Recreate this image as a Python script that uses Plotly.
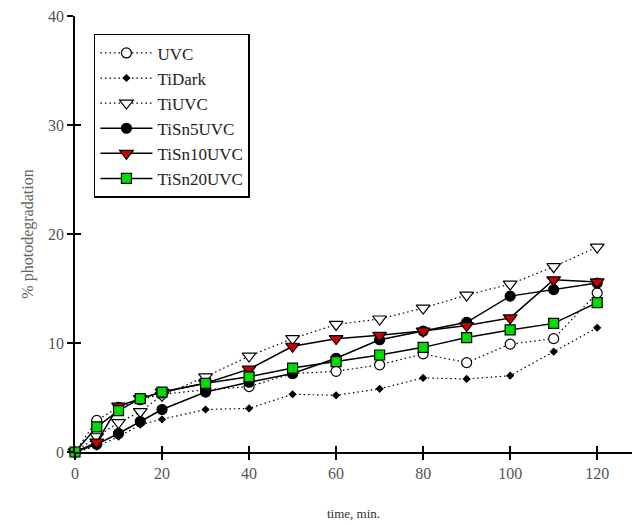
import plotly.graph_objects as go

time_min = [0, 5, 10, 15, 20, 30, 40, 50, 60, 70, 80, 90, 100, 110, 120]
uvc = [0, 2.9, 4.1, 4.8, 5.3, 5.7, 6.0, 7.2, 7.4, 8.0, 9.0, 8.2, 9.9, 10.4, 14.6]
ti_dark = [0, 0.5, 1.4, 2.5, 3.0, 3.9, 4.0, 5.3, 5.2, 5.8, 6.8, 6.7, 7.0, 9.2, 11.4]
ti_uvc = [0, 1.4, 2.7, 3.7, 5.2, 6.9, 8.8, 10.4, 11.7, 12.2, 13.2, 14.4, 15.4, 17.0, 18.8]
tisn5_uvc = [0, 0.7, 1.7, 2.8, 3.9, 5.5, 6.4, 7.2, 8.6, 10.3, 11.1, 11.9, 14.3, 14.9, 15.5]
tisn10_uvc = [0, 0.9, 4.2, 4.9, 5.5, 6.3, 7.6, 9.7, 10.4, 10.7, 11.1, 11.6, 12.3, 15.8, 15.6]
tisn20_uvc = [0, 2.3, 3.8, 4.9, 5.5, 6.3, 6.9, 7.7, 8.3, 8.9, 9.6, 10.5, 11.2, 11.8, 13.7]

x_ticks = [0, 20, 40, 60, 80, 100, 120]
y_ticks = [0, 10, 20, 30, 40]

FONT = "Liberation Serif"
DOTTED = "1.5px,3px"

series = [
    ("UVC", uvc, DOTTED, 1.2, "circle", 10, "white"),
    ("TiDark", ti_dark, DOTTED, 1.2, "diamond", 5, "black"),
    ("TiUVC", ti_uvc, DOTTED, 1.2, "triangle-down", 12, "white"),
    ("TiSn5UVC", tisn5_uvc, "solid", 1.5, "circle", 10, "black"),
    ("TiSn10UVC", tisn10_uvc, "solid", 1.5, "triangle-down", 12, "#cc0000"),
    ("TiSn20UVC", tisn20_uvc, "solid", 1.5, "square", 10, "#00dd00"),
]

fig = go.Figure()
for name, vals, dash, lw, sym, size, fill in series:
    fig.add_trace(go.Scatter(
        x=time_min, y=vals, name=name, mode="lines+markers",
        line=dict(color="black", width=lw, dash=dash),
        marker=dict(symbol=sym, size=size, color=fill,
                    line=dict(color="black", width=1.2)),
        cliponaxis=False,
    ))

# invisible trace for overlay axes (inside half of crossing ticks)
fig.add_trace(go.Scatter(x=[0], y=[0], xaxis="x2", yaxis="y2", mode="markers",
                         marker=dict(opacity=0), showlegend=False, hoverinfo="skip"))

axis_common = dict(showgrid=False, zeroline=False, linecolor="black", linewidth=1.8,
                   tickcolor="black", tickwidth=1.8, ticklen=6, showline=True)

fig.update_layout(
    width=632, height=525,
    margin=dict(l=75, r=0, t=16, b=73),
    paper_bgcolor="white", plot_bgcolor="white",
    font=dict(family=FONT, color="#444444", size=16),
    xaxis=dict(range=[0, 128], tickvals=x_ticks, ticks="outside",
               title=dict(text="time, min.", font=dict(size=13, color="#333333"), standoff=28),
               tickfont=dict(size=16, color="#555555"), **axis_common),
    yaxis=dict(range=[0, 40], tickvals=y_ticks, ticks="outside",
               title=dict(text="% photodegradation", font=dict(size=16, color="#666666"), standoff=10),
               tickfont=dict(size=16, color="#555555"), **axis_common),
    xaxis2=dict(range=[0, 128], tickvals=x_ticks, ticks="inside", overlaying="x",
                showticklabels=False, anchor="y2", **axis_common),
    yaxis2=dict(range=[0, 40], tickvals=y_ticks, ticks="inside", overlaying="y",
                showticklabels=False, anchor="x2", **axis_common),
    legend=dict(x=0.034, y=0.959, xanchor="left", yanchor="top",
                bordercolor="black", borderwidth=1.5, bgcolor="white",
                font=dict(family=FONT, size=17, color="#222222"),
                itemwidth=52, tracegroupgap=0),
    showlegend=True,
)

fig.write_html("out.html")
